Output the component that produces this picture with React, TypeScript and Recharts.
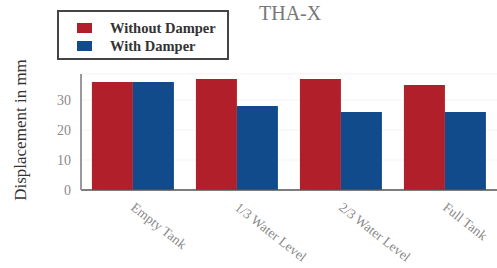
import { BarChart, Bar, XAxis, YAxis, CartesianGrid } from 'recharts'

const categories = ['Empty Tank', '1/3 Water Level', '2/3 Water Level', 'Full Tank']
const withoutDamper = [36, 37, 37, 35]
const withDamper = [36, 28, 26, 26]
const yTicks = [0, 10, 20, 30]

const data = categories.map((name, i) => ({
  name,
  without: withoutDamper[i],
  with: withDamper[i],
}))

const FONT = '"Liberation Serif", "DejaVu Serif", serif'
const RED = '#B01F2A'
const BLUE = '#124B8C'

const AngledTick = (props: any) => {
  const { x, y, payload } = props
  return (
    <text
      x={x - 3}
      y={y + 11}
      transform={`rotate(38, ${x - 3}, ${y + 11})`}
      textAnchor="start"
      fill="#8a8a8a"
      style={{ fontFamily: FONT, fontSize: 13.5 }}
    >
      {payload.value}
    </text>
  )
}

const YTick = (props: any) => {
  const { x, y, payload } = props
  return (
    <text x={x - 2} y={y} dy={5} textAnchor="end" fill="#8a8a8a" style={{ fontFamily: FONT, fontSize: 14 }}>
      {payload.value}
    </text>
  )
}

const YLabel = () => (
  <text
    x={26}
    y={130}
    transform="rotate(-90, 26, 130)"
    textAnchor="middle"
    fill="#333"
    style={{ fontFamily: FONT, fontSize: 17 }}
  >
    Displacement in mm
  </text>
)

const LegendBox = () => (
  <div
    style={{
      position: 'absolute',
      left: 57,
      top: 10,
      width: 168,
      height: 46,
      border: '2px solid #444',
      fontFamily: FONT,
      fontWeight: 'bold',
      fontSize: 14.5,
      color: '#333',
    }}
  >
    {[
      { label: 'Without Damper', color: RED },
      { label: 'With Damper', color: BLUE },
    ].map((item, i) => (
      <div key={item.label} style={{ position: 'absolute', left: 18, top: 7 + i * 18, display: 'flex', alignItems: 'center', lineHeight: '18px' }}>
        <span style={{ display: 'inline-block', width: 15, height: 10, background: item.color, marginRight: 18 }} />
        <span>{item.label}</span>
      </div>
    ))}
  </div>
)

export default function App() {
  return (
    <div style={{ position: 'absolute', left: 0, top: 0, width: 497, height: 268, background: '#fff' }}>
      <div
        style={{
          position: 'absolute',
          left: 259,
          top: 2,
          fontFamily: FONT,
          fontSize: 20,
          color: '#777',
        }}
      >
        THA-X
      </div>
      <BarChart
        width={497}
        height={268}
        data={data}
        margin={{ top: 74, right: 0, bottom: 0, left: 0 }}
        barCategoryGap="10.5%"
        barGap={0}
      >
        <CartesianGrid vertical={false} stroke="#f3f3f3" />
        <XAxis
          dataKey="name"
          height={78}
          interval={0}
          tick={<AngledTick />}
          tickLine={false}
          axisLine={{ stroke: '#555', strokeWidth: 1.5 }}
        />
        <YAxis
          width={81}
          domain={[0, 38.7]}
          ticks={yTicks}
          tickLine={false}
          axisLine={{ stroke: '#999', strokeWidth: 2 }}
          tick={<YTick />}
          label={<YLabel />}
        />
        <Bar dataKey="without" name="Without Damper" fill={RED} isAnimationActive={false} />
        <Bar dataKey="with" name="With Damper" fill={BLUE} isAnimationActive={false} />
      </BarChart>
      <LegendBox />
    </div>
  )
}
